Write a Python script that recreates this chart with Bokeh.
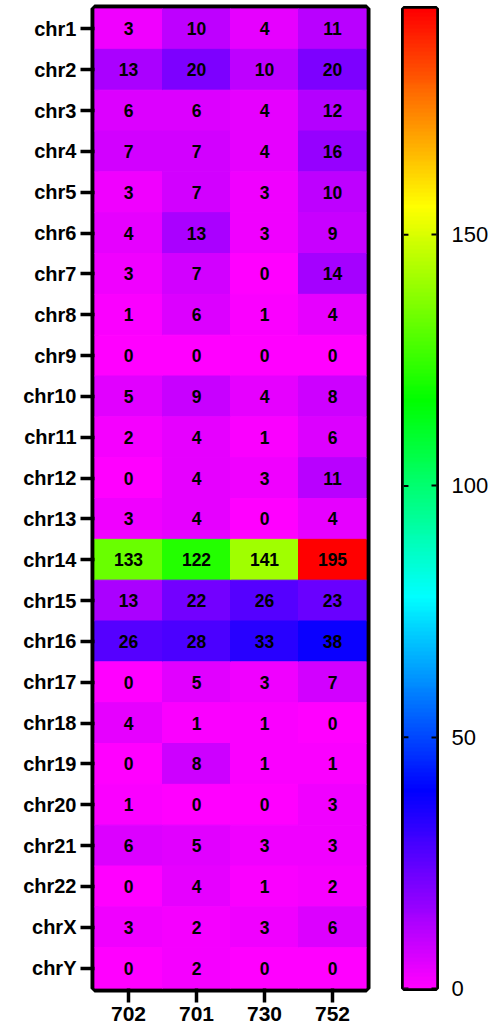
import numpy as np
from bokeh.plotting import figure
from bokeh.layouts import row
from bokeh.models import (ColumnDataSource, FactorRange, Range1d, LinearColorMapper,
                          FixedTicker)
from bokeh.core.properties import value
from bokeh.embed import file_html
from bokeh.resources import INLINE

samples = ["702", "701", "730", "752"]
chroms = ["chr%d" % i for i in range(1, 23)] + ["chrX", "chrY"]

vals_702 = [3, 13, 6, 7, 3, 4, 3, 1, 0, 5, 2, 0, 3, 133, 13, 26, 0, 4, 0, 1, 6, 0, 3, 0]
vals_701 = [10, 20, 6, 7, 7, 13, 7, 6, 0, 9, 4, 4, 4, 122, 22, 28, 5, 1, 8, 0, 5, 4, 2, 2]
vals_730 = [4, 10, 4, 4, 3, 3, 0, 1, 0, 4, 1, 3, 0, 141, 26, 33, 3, 1, 1, 0, 3, 1, 3, 0]
vals_752 = [11, 20, 12, 16, 10, 9, 14, 4, 0, 8, 6, 11, 4, 195, 23, 38, 7, 0, 1, 3, 3, 2, 6, 0]

cbar_low, cbar_high = 0, 195
cbar_ticks = [0, 50, 100, 150]

# colour stops: magenta -> blue -> cyan -> green -> yellow -> red
stops = [(255, 0, 255), (0, 0, 255), (0, 255, 255), (0, 255, 0), (255, 255, 0), (255, 0, 0)]
n_pal = 256
palette = []
for i in range(n_pal):
    t = i / (n_pal - 1) * (len(stops) - 1)
    k = min(int(t), len(stops) - 2)
    f = t - k
    c = [round(stops[k][j] + (stops[k + 1][j] - stops[k][j]) * f) for j in range(3)]
    palette.append("#%02x%02x%02x" % tuple(c))

mapper = LinearColorMapper(palette=palette, low=cbar_low, high=cbar_high)

xs, ys, vs = [], [], []
for s, col in zip(samples, [vals_702, vals_701, vals_730, vals_752]):
    for c, v in zip(chroms, col):
        xs.append(s)
        ys.append(c)
        vs.append(v)
src = ColumnDataSource(dict(x=xs, y=ys, v=vs, label=[str(v) for v in vs]))

FONT = "Liberation Sans"

p = figure(x_range=FactorRange(*samples), y_range=FactorRange(*list(reversed(chroms))),
           frame_width=272, frame_height=980, min_border_left=94, min_border_right=5,
           min_border_top=8, min_border_bottom=35, output_backend="svg",
           toolbar_location=None, title=None)
p.rect(x="x", y="y", width=1, height=1, source=src,
       fill_color={"field": "v", "transform": mapper},
       line_color={"field": "v", "transform": mapper}, line_width=1)
p.text(x="x", y="y", text="label", source=src, text_align="center",
       text_baseline="middle", text_font=value(FONT), text_font_style="bold",
       text_font_size="17.5px", text_color="black")
p.grid.visible = False
p.outline_line_color = "black"
p.outline_line_width = 8
for ax in (p.xaxis[0], p.yaxis[0]):
    ax.axis_line_color = None
    ax.major_tick_in = 0
    ax.major_tick_line_width = 3.5
    ax.major_tick_line_color = "black"
    ax.minor_tick_line_color = None
    ax.major_label_text_font = FONT
    ax.major_label_text_font_style = "bold"
    ax.major_label_text_color = "black"
p.yaxis.major_tick_out = 14
p.yaxis.major_label_standoff = 4
p.yaxis.major_label_text_font_size = "20px"
p.xaxis.major_tick_out = 14
p.xaxis.major_label_standoff = 4
p.xaxis.major_label_text_font_size = "21px"

# colour bar
p2 = figure(x_range=Range1d(0, 1), y_range=Range1d(cbar_low, cbar_high),
            frame_width=33, frame_height=980, min_border_left=32, min_border_right=55,
            min_border_top=8, min_border_bottom=35, output_backend="svg",
            toolbar_location=None, title=None, y_axis_location="right")
grad = np.linspace(cbar_low, cbar_high, 500).reshape(500, 1)
p2.image(image=[grad], x=0, y=cbar_low, dw=1, dh=cbar_high - cbar_low, color_mapper=mapper)
p2.xaxis.visible = False
p2.grid.visible = False
p2.outline_line_color = "black"
p2.outline_line_width = 5
yax = p2.yaxis[0]
yax.ticker = FixedTicker(ticks=cbar_ticks)
yax.axis_line_color = None
yax.major_tick_in = 5
yax.major_tick_out = 0
yax.major_tick_line_width = 2
yax.minor_tick_line_color = None
yax.major_label_standoff = 15
yax.major_label_text_font = FONT
yax.major_label_text_font_size = "22px"
yax.major_label_text_font_style = "normal"
yax.major_label_text_color = "black"
p2.segment(x0=[0] * len(cbar_ticks), x1=[0.15] * len(cbar_ticks),
           y0=cbar_ticks, y1=cbar_ticks, line_color="black", line_width=2)

layout = row(p, p2)
open("out.html", "w").write(file_html(layout, INLINE))
